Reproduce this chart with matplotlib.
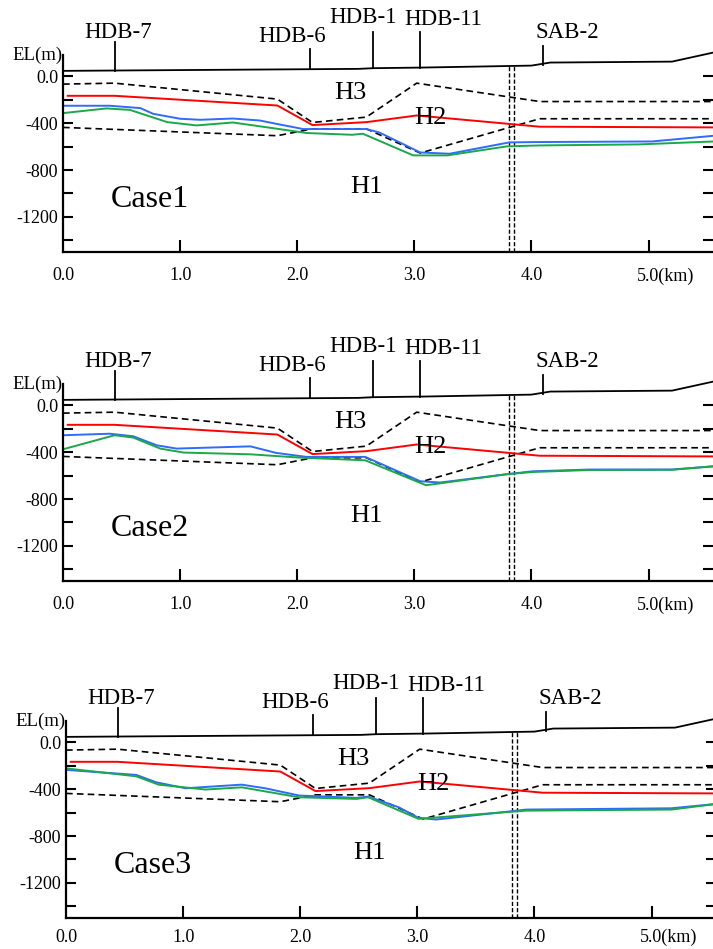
import matplotlib
matplotlib.use('Agg')
import matplotlib.pyplot as plt
import numpy as np

plt.rcParams['font.family'] = ['Liberation Serif', 'DejaVu Serif']

# 地表线 (km, m)
surf_x = [0.0, 2.52, 2.65, 3.05, 4.0, 4.16, 5.2, 5.56]
surf_y = [47, 64, 70, 75, 92, 118, 126, 205]

# 钻孔位置
bh_names = ['HDB-7', 'HDB-6', 'HDB-1', 'HDB-11', 'SAB-2']
bh_x = [0.44, 2.11, 2.65, 3.05, 4.10]
bh_base = [47, 60, 70, 75, 100]
bh_top = [297, 234, 379, 379, 263]
bh_lab_x = [0.47, 1.96, 2.56, 3.25, 4.31]
bh_lab_y = [379, 337, 507, 482, 371]

# 分层边界 (虚线)
upper_x = [0.0, 0.44, 1.83, 2.13, 2.59, 3.02, 4.07, 5.56]
upper_y = [-66, -58, -194, -394, -348, -58, -215, -215]
lower_x = [0.0, 1.83, 2.13, 2.59, 3.05, 4.07, 5.56]
lower_y = [-436, -507, -448, -448, -655, -362, -362]

# 红线
red_x = [0.04, 0.44, 1.83, 2.13, 2.59, 3.02, 4.07, 5.56]
red_y = [-166, -166, -249, -416, -391, -334, -430, -436]

# 蓝线 / 绿线 (各工况)
blue_x1 = [0.0, 0.4, 0.66, 0.77, 1.0, 1.17, 1.45, 1.68, 1.82, 2.05, 2.59, 2.7, 3.05, 3.3, 3.81, 4.07, 5.03, 5.56]
blue_y1 = [-251, -251, -271, -320, -362, -371, -360, -377, -405, -450, -450, -479, -650, -661, -564, -561, -556, -507]
green_x1 = [0.0, 0.37, 0.57, 0.89, 1.14, 1.45, 1.79, 2.08, 2.47, 2.56, 2.99, 3.28, 3.79, 4.07, 4.92, 5.56]
green_y1 = [-314, -274, -286, -391, -419, -394, -442, -484, -499, -490, -675, -675, -598, -590, -581, -556]

blue_x2 = [0.0, 0.4, 0.6, 0.8, 0.97, 1.6, 1.82, 2.08, 2.58, 3.05, 3.22, 3.79, 4.01, 4.5, 5.2, 5.56]
blue_y2 = [-255, -242, -264, -341, -369, -350, -406, -440, -440, -648, -659, -588, -563, -548, -548, -520]
green_x2 = [0.0, 0.44, 0.6, 0.83, 1.03, 1.6, 2.02, 2.58, 3.05, 3.1, 3.79, 4.01, 4.5, 5.2, 5.56]
green_y2 = [-375, -255, -275, -369, -403, -418, -446, -469, -662, -682, -588, -569, -552, -550, -520]

blue_x3 = [0.0, 0.6, 0.77, 1.02, 1.5, 1.7, 1.99, 2.48, 2.58, 2.84, 3.01, 3.16, 3.93, 5.17, 5.56]
blue_y3 = [-235, -278, -341, -392, -361, -392, -454, -474, -463, -554, -645, -659, -574, -563, -525]
green_x3 = [0.0, 0.6, 0.79, 1.19, 1.5, 1.99, 2.48, 2.58, 3.01, 3.93, 5.17, 5.56]
green_y3 = [-222, -290, -361, -403, -384, -469, -483, -469, -653, -583, -574, -525]

cases = ['Case1', 'Case2', 'Case3']
blues = [(blue_x1, blue_y1), (blue_x2, blue_y2), (blue_x3, blue_y3)]
greens = [(green_x1, green_y1), (green_x2, green_y2), (green_x3, green_y3)]

fault_x = [3.81, 3.85]

fig = plt.figure(figsize=(7.13, 9.49), dpi=100)
positions = [[0.0884, 0.7345, 0.9116, 0.2076],
             [0.0884, 0.3878, 0.9116, 0.2076],
             [0.0926, 0.0327, 0.9116, 0.2076]]
xpads = [11, 11, 8]

for i in range(3):
    ax = fig.add_axes(positions[i])
    ax.set_xlim(0, 5.55)
    ax.set_ylim(-1500, 183)

    # 地表线与钻孔
    ax.plot(surf_x, surf_y, color='black', lw=1.3, clip_on=False)
    for name, x, b, t, lx, ly in zip(bh_names, bh_x, bh_base, bh_top, bh_lab_x, bh_lab_y):
        ax.plot([x, x], [b, t], color='black', lw=1.3, clip_on=False)
        ax.text(lx, ly, name, ha='center', va='center', fontsize=16.5, clip_on=False)

    # 断层 (双虚线)
    for fx in fault_x:
        top = np.interp(fx, surf_x, surf_y)
        ax.plot([fx, fx], [-1500, top], color='black', lw=1.0, linestyle=(0, (3, 1.5)))

    ax.plot(upper_x, upper_y, color='black', lw=1.2, linestyle=(0, (4, 2.5)))
    ax.plot(lower_x, lower_y, color='black', lw=1.2, linestyle=(0, (4, 2.5)))
    ax.plot(red_x, red_y, color='#ff0000', lw=1.4)
    ax.plot(blues[i][0], blues[i][1], color='#2f6bff', lw=1.4)
    ax.plot(greens[i][0], greens[i][1], color='#1aa84a', lw=1.4)

    # 地层标注
    ax.text(2.45, -141, 'H3', ha='center', va='center', fontsize=19)
    ax.text(3.14, -354, 'H2', ha='center', va='center', fontsize=19)
    ax.text(2.59, -942, 'H1', ha='center', va='center', fontsize=19)
    ax.text(0.74, -1053, cases[i], ha='center', va='center', fontsize=23)

    # 坐标轴
    ax.spines['top'].set_visible(False)
    ax.spines['right'].set_visible(False)
    ax.spines['left'].set_linewidth(1.6)
    ax.spines['bottom'].set_linewidth(1.6)
    ax.set_xticks([1, 2, 3, 4, 5])
    ax.set_xticklabels(['1.0', '2.0', '3.0', '4.0', ''])
    ax.set_yticks([0, -400, -800, -1200])
    ax.set_yticklabels(['0.0', '-400', '-800', '-1200'])
    ax.set_yticks([-200, -600, -1000, -1400], minor=True)
    ax.tick_params(axis='x', direction='in', length=9, width=1.5, pad=xpads[i], labelsize=13)
    ax.tick_params(axis='y', which='both', direction='in', length=7, width=1.5, pad=3.5,
                   labelsize=13, right=True)
    ax.text(0.0, 1.0, 'EL(m)', transform=ax.transAxes, ha='right', va='center', fontsize=13.5)
    ax.annotate('0.0', xy=(0, 0), xycoords=('data', 'axes fraction'), xytext=(0, -xpads[i]),
                textcoords='offset points', ha='center', va='top', fontsize=13)
    ax.annotate('5.0(km)', xy=(5.0, 0), xycoords=('data', 'axes fraction'), xytext=(-8.1, -xpads[i]),
                textcoords='offset points', ha='left', va='top', fontsize=13)

plt.savefig('out.png', dpi=100)
